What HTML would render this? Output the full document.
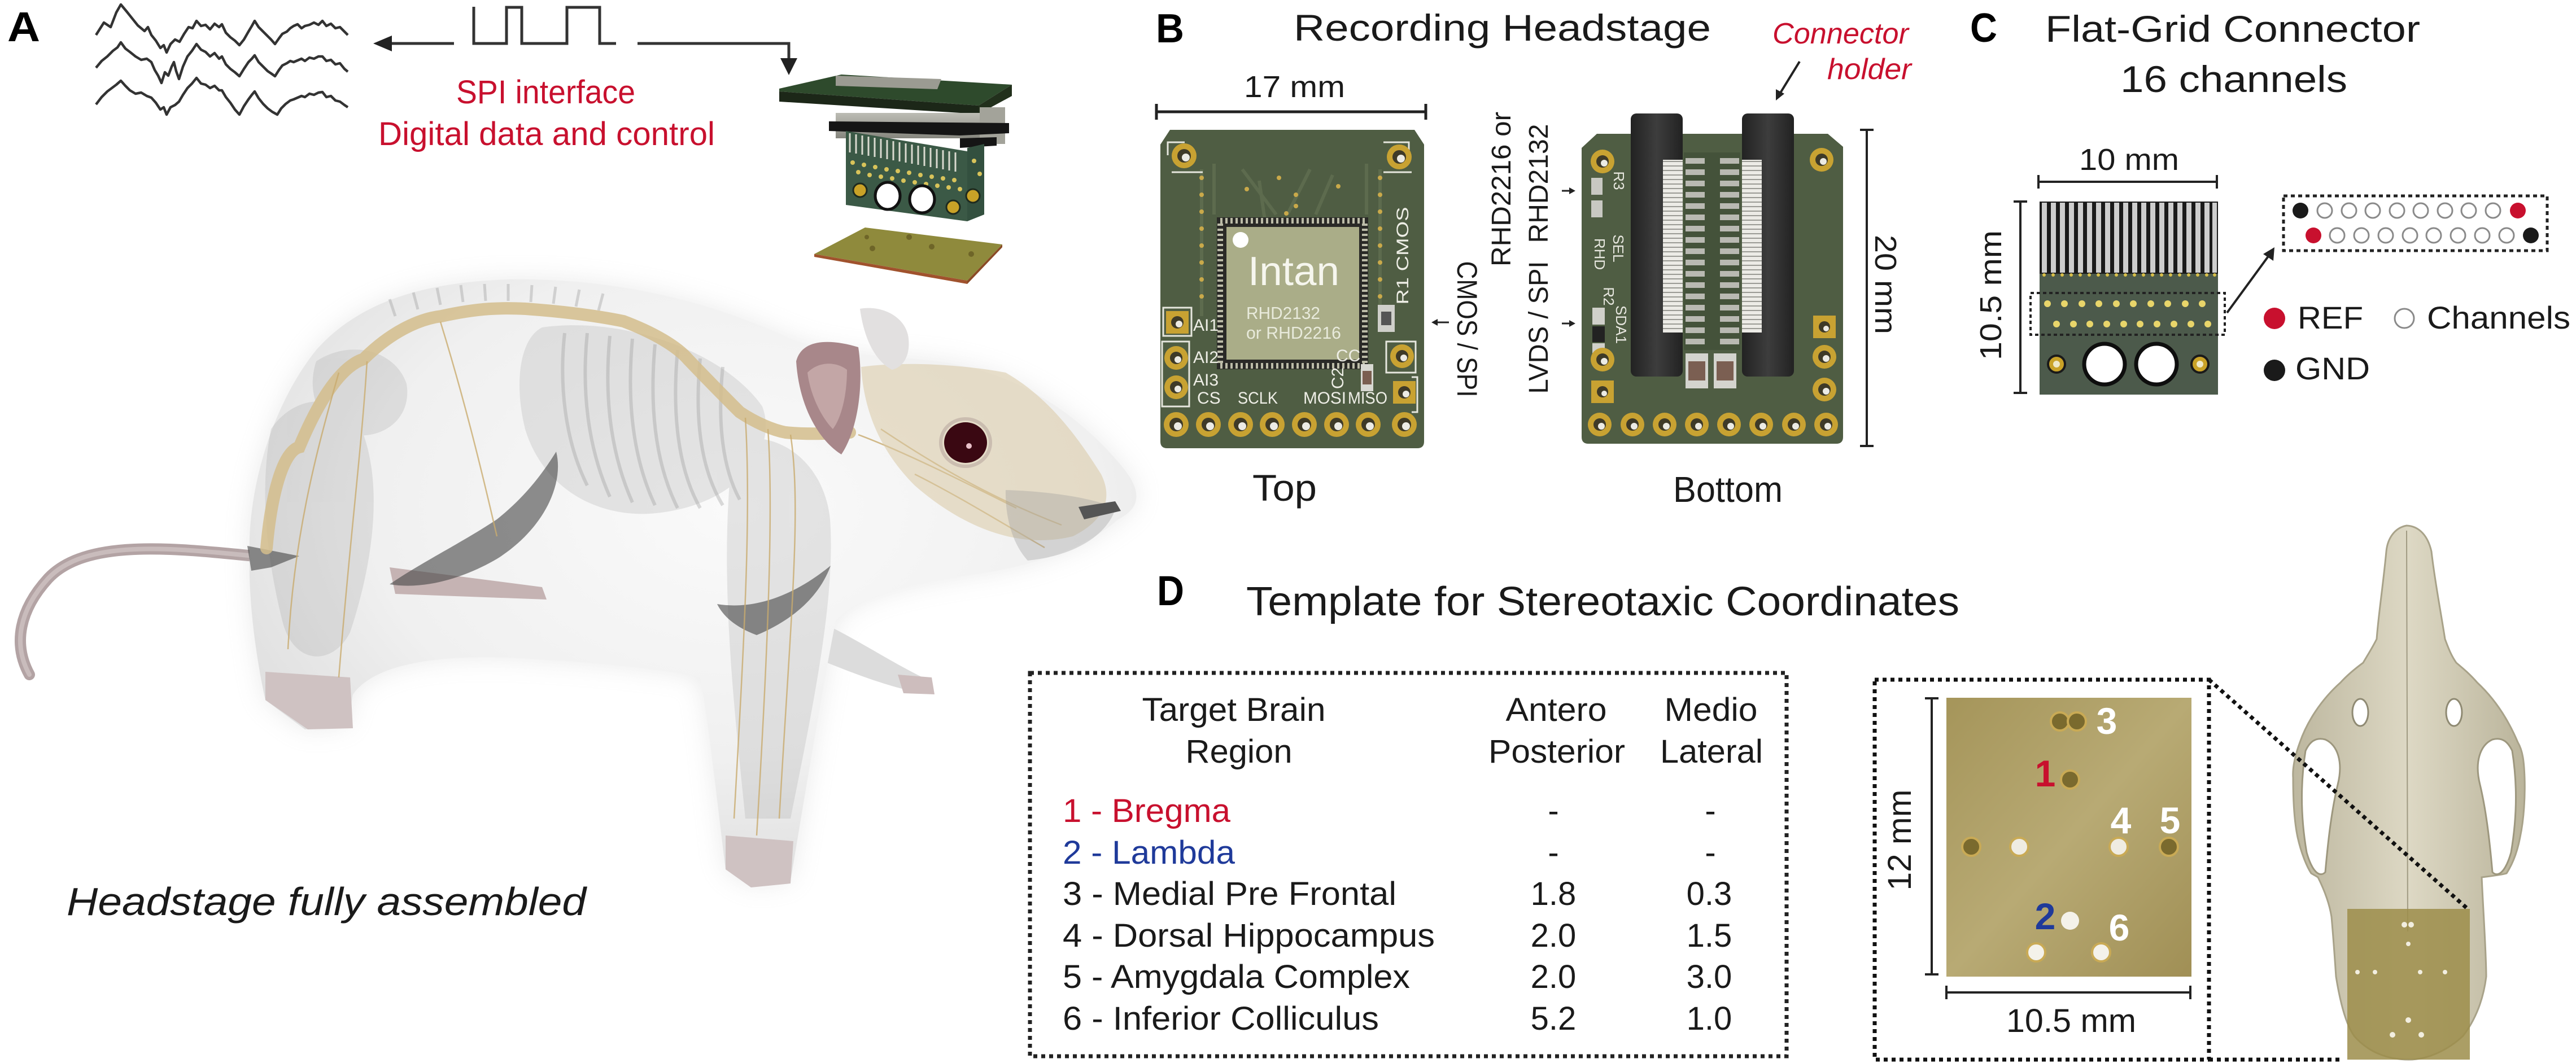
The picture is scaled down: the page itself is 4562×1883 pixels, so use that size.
<!DOCTYPE html>
<html><head><meta charset="utf-8"><style>
html,body{margin:0;padding:0;background:#fff;}
svg{display:block;}
text{font-family:"Liberation Sans",Arial,sans-serif;}
</style></head><body>
<svg width="4562" height="1883" viewBox="0 0 4562 1883" xmlns="http://www.w3.org/2000/svg">
<defs>
<radialGradient id="bodyG" cx="0.55" cy="0.38" r="0.75">
<stop offset="0" stop-color="#fafafa"/><stop offset="0.55" stop-color="#f0f0f0"/><stop offset="0.85" stop-color="#dedede"/><stop offset="1" stop-color="#c8c8c8"/>
</radialGradient>
<linearGradient id="tmplG" x1="0" y1="0" x2="1" y2="1">
<stop offset="0" stop-color="#a5955a"/><stop offset="0.5" stop-color="#b8aa74"/><stop offset="1" stop-color="#a08f55"/>
</linearGradient>
<linearGradient id="skullG" x1="0" y1="0" x2="1" y2="0">
<stop offset="0" stop-color="#bdb79f"/><stop offset="0.5" stop-color="#ddd8c4"/><stop offset="1" stop-color="#bab49b"/>
</linearGradient>
<linearGradient id="holderG" x1="0" y1="0" x2="1" y2="0">
<stop offset="0" stop-color="#222"/><stop offset="0.5" stop-color="#3d3d3d"/><stop offset="1" stop-color="#222"/>
</linearGradient>
<linearGradient id="greyBlk" x1="0" y1="0" x2="0" y2="1">
<stop offset="0" stop-color="#bdbdb5"/><stop offset="1" stop-color="#86867e"/>
</linearGradient>
<pattern id="stripH" width="10" height="8" patternUnits="userSpaceOnUse">
<rect width="10" height="8" fill="#ecebe6"/><rect y="5" width="10" height="2" fill="#9a9a94"/>
</pattern>
<filter id="blur20" x="-20%" y="-20%" width="140%" height="140%"><feGaussianBlur stdDeviation="22"/></filter>
<filter id="blur6"><feGaussianBlur stdDeviation="6"/></filter>
<filter id="blur3"><feGaussianBlur stdDeviation="3"/></filter>
</defs>

<!-- ===================== PANEL A ===================== -->
<text x="13" y="73" font-size="74" font-weight="bold" fill="#000" textLength="58" lengthAdjust="spacingAndGlyphs">A</text>

<g fill="none" stroke="#333" stroke-width="4.5" stroke-linejoin="round">
<polyline points="170,62 184,40 196,48 206,22 214,8 224,20 232,30 244,45 256,55 262,48 268,62 276,72 284,85 290,80 295,93 302,78 310,70 318,74 326,60 334,48 341,50 348,37 356,46 364,44 372,52 380,42 388,48 393,43 400,58 408,66 416,72 424,80 432,70 440,56 446,46 451,37 458,48 466,56 474,64 480,70 487,78 494,68 500,60 508,56 514,50 520,46 527,43 534,50 540,46 548,44 556,40 564,44 571,37 578,46 586,42 594,50 602,48 610,56 616,62"/>
<polyline points="170,120 180,108 190,100 200,90 208,84 214,75 222,86 230,92 240,100 250,106 260,104 268,110 274,124 280,134 286,147 292,128 298,134 304,118 308,110 312,126 317,140 324,118 332,100 340,90 348,78 356,88 364,92 372,100 380,94 388,104 393,100 400,114 408,122 416,128 424,135 432,122 440,110 446,104 451,98 458,110 466,118 474,126 480,130 487,135 494,124 500,116 508,112 514,108 520,110 527,107 534,104 540,108 548,102 556,104 564,100 571,100 578,108 586,106 594,114 602,112 610,122 616,127"/>
<polyline points="170,185 180,172 190,162 198,156 206,150 214,143 222,152 230,160 240,166 250,164 260,170 268,173 276,182 284,194 290,190 295,203 302,190 310,186 317,180 324,168 332,156 340,148 348,138 356,148 364,150 372,156 380,152 388,160 393,160 400,172 408,182 416,194 424,203 432,188 440,176 446,168 451,162 458,174 466,184 474,192 482,198 491,203 498,192 506,184 514,178 520,176 527,173 534,170 540,172 548,166 556,168 564,164 571,163 578,172 586,170 594,178 602,180 610,186 616,190"/>
</g>

<g stroke="#333" stroke-width="5" fill="none">
<line x1="688" y1="77" x2="804" y2="77"/>
<polyline points="839,12 839,77 897,77 897,13 924,13 924,77 1004,77 1004,13 1062,13 1062,77 1091,77"/>
<polyline points="1129,77 1397,77 1397,106"/>
</g>
<polygon points="661,77 694,63 694,91" fill="#222"/>
<polygon points="1382,103 1412,103 1397,133" fill="#222"/>

<text x="808" y="183" font-size="58" fill="#c8102e" textLength="317" lengthAdjust="spacingAndGlyphs">SPI interface</text>
<text x="670" y="257" font-size="58" fill="#c8102e" textLength="596" lengthAdjust="spacingAndGlyphs">Digital data and control</text>

<!-- exploded headstage -->
<g>
<polygon points="1380,157 1490,132 1792,150 1733,187 1380,162" fill="#2e4a2c"/>
<polygon points="1480,134 1667,140 1660,158 1480,152" fill="#9b9b92"/>
<polygon points="1380,162 1733,187 1733,202 1380,180" fill="#1c2718"/>
<polygon points="1733,187 1792,150 1792,170 1733,202" fill="#22301c"/>
<rect x="1480" y="200" width="255" height="45" fill="url(#greyBlk)"/>
<rect x="1735" y="190" width="45" height="65" fill="#a3a39a"/>
<polygon points="1468,215 1787,218 1787,236 1700,240 1468,232" fill="#151515"/>
<polygon points="1700,245 1765,243 1765,258 1700,262" fill="#151515"/>
<polygon points="1713,262 1743,255 1743,380 1713,392" fill="#33503f"/>
<polygon points="1498,232 1713,268 1713,392 1498,363" fill="#3b5946"/>
<g stroke="#d9d9cf" stroke-width="3">
<line x1="1505" y1="236" x2="1505" y2="270"/><line x1="1516" y1="238" x2="1516" y2="272"/><line x1="1527" y1="240" x2="1527" y2="274"/><line x1="1538" y1="242" x2="1538" y2="276"/><line x1="1549" y1="244" x2="1549" y2="278"/><line x1="1560" y1="246" x2="1560" y2="280"/><line x1="1571" y1="248" x2="1571" y2="282"/><line x1="1582" y1="250" x2="1582" y2="284"/><line x1="1593" y1="252" x2="1593" y2="286"/><line x1="1604" y1="254" x2="1604" y2="288"/><line x1="1615" y1="256" x2="1615" y2="290"/><line x1="1626" y1="258" x2="1626" y2="292"/><line x1="1637" y1="260" x2="1637" y2="294"/><line x1="1648" y1="262" x2="1648" y2="296"/><line x1="1659" y1="264" x2="1659" y2="298"/><line x1="1670" y1="266" x2="1670" y2="300"/><line x1="1681" y1="268" x2="1681" y2="302"/><line x1="1692" y1="270" x2="1692" y2="304"/>
</g>
<g fill="#d8c35a">
<circle cx="1510" cy="288" r="4"/><circle cx="1530" cy="292" r="4"/><circle cx="1550" cy="296" r="4"/><circle cx="1570" cy="300" r="4"/><circle cx="1590" cy="303" r="4"/><circle cx="1610" cy="306" r="4"/><circle cx="1630" cy="310" r="4"/><circle cx="1650" cy="313" r="4"/><circle cx="1670" cy="316" r="4"/><circle cx="1690" cy="319" r="4"/><circle cx="1725" cy="285" r="4"/>
<circle cx="1520" cy="305" r="4"/><circle cx="1540" cy="310" r="4"/><circle cx="1560" cy="313" r="4"/><circle cx="1580" cy="316" r="4"/><circle cx="1600" cy="320" r="4"/><circle cx="1620" cy="323" r="4"/><circle cx="1640" cy="326" r="4"/><circle cx="1660" cy="329" r="4"/><circle cx="1680" cy="332" r="4"/><circle cx="1700" cy="335" r="4"/><circle cx="1735" cy="308" r="4"/>
</g>
<ellipse cx="1572" cy="347" rx="22" ry="24" fill="#fff" stroke="#111" stroke-width="5"/>
<ellipse cx="1633" cy="353" rx="22" ry="24" fill="#fff" stroke="#111" stroke-width="5"/>
<circle cx="1523" cy="337" r="12" fill="#c9a227" stroke="#1e2a1e" stroke-width="3"/>
<circle cx="1688" cy="367" r="12" fill="#c9a227" stroke="#1e2a1e" stroke-width="3"/>
<circle cx="1723" cy="347" r="12" fill="#c9a227" stroke="#1e2a1e" stroke-width="3"/>
<polygon points="1442,450 1532,403 1775,433 1713,497" fill="#8f8a3c"/>
<polygon points="1442,450 1713,497 1713,503 1442,455" fill="#a0522d"/>
<polygon points="1713,497 1775,433 1775,438 1713,503" fill="#8a4a25"/>
<g fill="#6e6528"><circle cx="1545" cy="440" r="5"/><circle cx="1610" cy="420" r="5"/><circle cx="1650" cy="437" r="5"/><circle cx="1720" cy="450" r="5"/><circle cx="1535" cy="420" r="4"/></g>
</g>

<!-- Rat -->
<g>
<path d="M450,985 C300,970 150,955 85,1025 C35,1080 22,1140 52,1195" fill="none" stroke="#b3a3a4" stroke-width="20" stroke-linecap="round"/>
<path d="M450,985 C300,970 150,955 85,1025 C35,1080 22,1140 52,1195" fill="none" stroke="#c9bcbc" stroke-width="8" stroke-linecap="round"/>
<path d="M442,985 C438,870 480,720 560,620 C640,530 760,500 900,495 C1080,492 1250,530 1400,600 C1480,630 1560,630 1640,638 C1780,650 1900,720 1990,830 C2030,880 2010,905 1980,920 C1930,965 1850,995 1760,1012 C1640,1030 1520,1050 1480,1100 C1460,1200 1430,1380 1410,1500 L1400,1560 L1330,1568 L1285,1540 C1270,1420 1255,1280 1240,1200 C1150,1180 1000,1170 900,1165 C760,1160 660,1180 625,1230 L615,1285 L540,1292 L470,1240 C450,1150 440,1050 442,985 Z" fill="#bbb" opacity="0.3" filter="url(#blur20)"/>
<path d="M1470,1110 C1530,1140 1590,1180 1645,1205 L1635,1228 C1575,1218 1510,1192 1455,1170 Z" fill="#dcdcdc"/>
<path d="M1590,1195 L1650,1200 L1655,1230 L1600,1228 Z" fill="#cdbdbd"/>
<path d="M442,985 C438,870 480,720 560,620 C640,530 760,500 900,495 C1080,492 1250,530 1400,600 C1480,630 1560,630 1640,638 C1780,650 1900,720 1990,830 C2030,880 2010,905 1980,920 C1930,965 1850,995 1760,1012 C1640,1030 1520,1050 1480,1100 C1460,1200 1430,1380 1410,1500 L1400,1560 L1330,1568 L1285,1540 C1270,1420 1255,1280 1240,1200 C1150,1180 1000,1170 900,1165 C760,1160 660,1180 625,1230 L615,1285 L540,1292 L470,1240 C450,1150 440,1050 442,985 Z" fill="url(#bodyG)"/>
<path d="M690,1005 L960,1040 L968,1062 L700,1052 Z" fill="#c5b3b3"/>
<path d="M470,1190 L620,1200 L625,1290 L545,1292 L470,1240 Z" fill="#cfc2c2"/>
<path d="M1285,1480 L1405,1490 L1400,1565 L1330,1572 L1285,1540 Z" fill="#cfc2c2"/>
<!-- bones -->
<g fill="#9a9a9a" opacity="0.22">
<path d="M480,760 C520,700 600,690 640,760 C680,860 660,1000 620,1120 C590,1180 520,1180 500,1100 C470,980 460,860 480,760 Z"/>
<path d="M1300,780 C1380,760 1460,820 1470,920 C1480,1060 1440,1250 1400,1450 L1320,1450 C1300,1250 1270,1000 1300,780 Z"/>
<path d="M960,580 C1100,560 1280,620 1350,720 C1380,800 1300,900 1150,910 C1050,915 960,860 930,760 C910,680 920,600 960,580 Z"/>
<path d="M560,640 C620,600 700,620 720,680 C730,740 680,780 620,770 C570,760 540,700 560,640 Z"/>
</g>
<g fill="none" stroke="#9a9a9a" stroke-width="6" opacity="0.35">
<path d="M1000,590 C990,680 1000,780 1040,860"/><path d="M1040,590 C1030,690 1040,790 1080,880"/><path d="M1080,595 C1070,700 1080,800 1120,890"/><path d="M1120,600 C1110,710 1120,810 1160,895"/><path d="M1160,610 C1150,720 1160,820 1200,900"/><path d="M1200,620 C1190,730 1200,830 1240,900"/><path d="M1240,635 C1230,740 1240,830 1280,895"/><path d="M1280,650 C1270,750 1280,830 1310,885"/>
</g>
<g fill="none" stroke="#a0a0a0" stroke-width="5" opacity="0.4">
<path d="M700,560 L690,530 M740,548 L732,518 M780,540 L774,510 M820,535 L816,505 M860,533 L858,503 M900,533 L900,503 M940,535 L942,505 M980,538 L984,508 M1020,543 L1026,513 M1060,550 L1068,520"/>
</g>
<g fill="#444" opacity="0.6">
<path d="M985,800 C1000,860 960,940 880,990 C820,1025 750,1045 690,1035 C740,1000 820,960 880,920 C930,880 960,840 985,800 Z"/>
<path d="M1471,1002 C1450,1060 1400,1100 1340,1125 C1300,1110 1280,1090 1270,1070 C1330,1080 1400,1060 1471,1002 Z"/>
<path d="M438,967 L530,985 L480,1005 L445,1011 Z"/>
</g>
<!-- spine -->
<path d="M472,971 C480,880 500,800 530,792 C560,720 600,650 644,636 C690,590 740,565 782,560 C850,545 890,545 931,547 C1000,552 1060,560 1104,569 C1160,590 1200,615 1218,636 C1260,680 1290,710 1310,730 C1340,750 1370,762 1391,766 C1430,770 1470,768 1505,766" fill="none" stroke="#d4bd8c" stroke-width="22" stroke-linecap="round" opacity="0.85"/>
<g fill="none" stroke="#c9ab6e" stroke-width="2.5" opacity="0.8">
<path d="M600,660 C560,800 520,950 510,1150"/><path d="M650,640 C640,800 620,950 600,1200"/><path d="M1320,740 C1330,900 1320,1100 1300,1450"/><path d="M1360,760 C1370,900 1360,1150 1340,1480"/><path d="M1400,770 C1420,900 1400,1100 1380,1450"/><path d="M1520,770 C1600,800 1700,850 1800,900"/><path d="M1560,760 C1650,820 1750,880 1880,930"/><path d="M780,570 C820,700 850,820 880,950"/><path d="M1620,840 C1700,880 1780,930 1850,970"/>
</g>
<!-- head -->
<path d="M1525,650 C1600,640 1700,645 1781,660 C1850,700 1900,760 1950,840 C1970,880 1960,920 1900,950 C1800,975 1700,930 1620,860 C1560,800 1530,730 1525,650 Z" fill="#d8c8a4" opacity="0.55"/>
<path d="M1781,868 C1850,870 1930,880 1976,900 C1960,950 1900,985 1820,993 C1790,960 1780,910 1781,868 Z" fill="#9a9a9a" opacity="0.35"/>
<path d="M1523,547 C1560,540 1605,560 1609,600 C1612,630 1600,650 1580,655 C1550,640 1530,600 1523,547 Z" fill="#e2e0e0"/>
<path d="M1410,640 C1420,600 1470,600 1520,615 C1530,680 1520,760 1490,805 C1450,780 1415,720 1410,640 Z" fill="#a8878a"/>
<path d="M1430,660 C1450,640 1480,640 1500,655 C1500,700 1490,740 1475,760 C1455,740 1435,700 1430,660 Z" fill="#c3a6a6"/>
<ellipse cx="1710" cy="784" rx="38" ry="36" fill="#3a0812"/>
<ellipse cx="1710" cy="784" rx="44" ry="42" fill="none" stroke="#b9a9a0" stroke-width="6" opacity="0.6"/>
<circle cx="1716" cy="790" r="5" fill="#e8c0c8"/>
<path d="M1910,898 L1975,888 L1985,905 L1920,920 Z" fill="#555"/>
</g>

<text x="118" y="1621" font-size="70" font-style="italic" fill="#1a1a1a" textLength="920" lengthAdjust="spacingAndGlyphs">Headstage fully assembled</text>

<!-- ===================== PANEL B ===================== -->
<text x="2047" y="75" font-size="72" font-weight="bold" fill="#000" textLength="50" lengthAdjust="spacingAndGlyphs">B</text>
<text x="2291" y="72" font-size="66" fill="#1a1a1a" textLength="739" lengthAdjust="spacingAndGlyphs">Recording Headstage</text>
<text x="2203" y="172" font-size="54" fill="#1a1a1a" textLength="179" lengthAdjust="spacingAndGlyphs">17 mm</text>
<g stroke="#222" stroke-width="5"><line x1="2048" y1="198" x2="2525" y2="198"/><line x1="2048" y1="184" x2="2048" y2="212"/><line x1="2525" y1="184" x2="2525" y2="212"/></g>

<!-- top board -->
<path d="M2072,230 L2505,230 L2522,256 L2522,782 Q2522,794 2510,794 L2067,794 Q2055,794 2055,782 L2055,256 Z" fill="#4f5d43"/>
<g fill="none" stroke="#5d6b4e" stroke-width="6">
<path d="M2128,300 L2128,560 M2150,290 L2150,380 M2444,300 L2444,560 M2420,290 L2420,380 M2200,300 L2260,380 M2320,300 L2280,380 M2360,310 L2330,380 M2230,320 L2240,390"/>
</g>
<g fill="#c9a94a">
<circle cx="2128" cy="315" r="4"/><circle cx="2128" cy="345" r="4"/><circle cx="2128" cy="375" r="4"/><circle cx="2128" cy="405" r="4"/><circle cx="2128" cy="435" r="4"/><circle cx="2128" cy="465" r="4"/><circle cx="2128" cy="495" r="4"/><circle cx="2128" cy="525" r="4"/>
<circle cx="2444" cy="315" r="4"/><circle cx="2444" cy="345" r="4"/><circle cx="2444" cy="375" r="4"/><circle cx="2444" cy="405" r="4"/><circle cx="2444" cy="435" r="4"/><circle cx="2444" cy="465" r="4"/><circle cx="2444" cy="495" r="4"/><circle cx="2444" cy="525" r="4"/>
<circle cx="2208" cy="335" r="4"/><circle cx="2265" cy="315" r="4"/><circle cx="2295" cy="345" r="4"/><circle cx="2295" cy="365" r="4"/><circle cx="2278" cy="378" r="4"/><circle cx="2370" cy="330" r="4"/>
</g>
<g fill="none" stroke="#e6e6de" stroke-width="3">
<path d="M2068,275 L2068,252 L2098,252"/><path d="M2075,305 L2130,305"/><path d="M2450,252 L2495,252 L2495,270"/><path d="M2450,305 L2500,305"/>
<rect x="2060" y="545" width="50" height="50"/><rect x="2058" y="605" width="48" height="115"/>
<rect x="2455" y="605" width="52" height="55"/><path d="M2500,668 L2510,668 L2510,730 L2500,730"/>
</g>
<rect x="2155" y="385" width="268" height="269" fill="#2a2a27"/>
<rect x="2161" y="391" width="256" height="257" fill="none" stroke="#bcbca8" stroke-width="10" stroke-dasharray="4 5"/>
<rect x="2172" y="402" width="235" height="235" fill="#aaad88"/>
<circle cx="2197" cy="425" r="14" fill="#fff"/>
<text x="2210" y="505" font-size="72" fill="#f6f6ee" textLength="162" lengthAdjust="spacingAndGlyphs">Intan</text>
<text x="2207" y="565" font-size="31" fill="#e8eadb" textLength="131" lengthAdjust="spacingAndGlyphs">RHD2132</text>
<text x="2207" y="600" font-size="31" fill="#e8eadb" textLength="168" lengthAdjust="spacingAndGlyphs">or RHD2216</text>
<rect x="2440" y="540" width="30" height="48" fill="#cfcfca"/><rect x="2446" y="552" width="18" height="24" fill="#555"/>
<rect x="2410" y="645" width="22" height="48" fill="#d8d8d2"/><rect x="2413" y="657" width="16" height="24" fill="#7a5e50"/>
<g font-family="'Liberation Mono',monospace" fill="#eeeee6" font-size="30">
<text x="2113" y="586">AI1</text><text x="2113" y="643">AI2</text><text x="2113" y="683">AI3</text>
<text x="2120" y="715">CS</text><text x="2192" y="715" textLength="71" lengthAdjust="spacingAndGlyphs">SCLK</text>
<text x="2308" y="715" textLength="76" lengthAdjust="spacingAndGlyphs">MOSI</text><text x="2387" y="715" textLength="70" lengthAdjust="spacingAndGlyphs">MISO</text>
<text x="2366" y="640">CC</text>
<text transform="translate(2483,453) rotate(-90)" text-anchor="middle" y="11" textLength="173" lengthAdjust="spacingAndGlyphs">R1 CMOS</text>
<text transform="translate(2368,670) rotate(-90)" text-anchor="middle" y="11">C2</text>
</g>
<g>
<g fill="#c8a232"><circle cx="2097" cy="276" r="22"/><circle cx="2478" cy="278" r="22"/>
<rect x="2065" y="551" width="40" height="40"/><circle cx="2083" cy="634" r="21"/><circle cx="2083" cy="686" r="21"/>
<circle cx="2483" cy="631" r="21"/><rect x="2467" y="675" width="40" height="40"/>
<circle cx="2083" cy="752" r="22"/><circle cx="2140" cy="752" r="22"/><circle cx="2197" cy="752" r="22"/><circle cx="2253" cy="752" r="22"/><circle cx="2310" cy="752" r="22"/><circle cx="2367" cy="752" r="22"/><circle cx="2423" cy="752" r="22"/><circle cx="2487" cy="752" r="22"/></g>
<g fill="#3e3a28"><circle cx="2097" cy="276" r="12"/><circle cx="2478" cy="278" r="12"/><circle cx="2085" cy="571" r="11"/><circle cx="2083" cy="634" r="11"/><circle cx="2083" cy="686" r="11"/><circle cx="2483" cy="631" r="11"/><circle cx="2487" cy="695" r="11"/>
<circle cx="2083" cy="752" r="12"/><circle cx="2140" cy="752" r="12"/><circle cx="2197" cy="752" r="12"/><circle cx="2253" cy="752" r="12"/><circle cx="2310" cy="752" r="12"/><circle cx="2367" cy="752" r="12"/><circle cx="2423" cy="752" r="12"/><circle cx="2487" cy="752" r="12"/></g>
<g fill="#ecebe4"><circle cx="2100" cy="279" r="7"/><circle cx="2481" cy="281" r="7"/><circle cx="2088" cy="574" r="6"/><circle cx="2086" cy="637" r="6"/><circle cx="2086" cy="689" r="6"/><circle cx="2486" cy="634" r="6"/><circle cx="2490" cy="698" r="6"/>
<circle cx="2086" cy="755" r="7"/><circle cx="2143" cy="755" r="7"/><circle cx="2200" cy="755" r="7"/><circle cx="2256" cy="755" r="7"/><circle cx="2313" cy="755" r="7"/><circle cx="2370" cy="755" r="7"/><circle cx="2426" cy="755" r="7"/><circle cx="2490" cy="755" r="7"/></g>
</g>
<text x="2218" y="887" font-size="66" fill="#1a1a1a" textLength="114" lengthAdjust="spacingAndGlyphs">Top</text>

<!-- side labels -->
<g stroke="#222" stroke-width="3"><line x1="2540" y1="571" x2="2566" y2="571"/><line x1="2766" y1="338" x2="2780" y2="338"/><line x1="2766" y1="573" x2="2780" y2="573"/></g>
<polygon points="2535,571 2546,565 2546,577" fill="#222"/>
<polygon points="2790,338 2779,332 2779,344" fill="#222"/>
<polygon points="2790,573 2779,567 2779,579" fill="#222"/>
<text transform="translate(2598,583) rotate(90)" text-anchor="middle" y="17" font-size="50" fill="#1a1a1a" textLength="241" lengthAdjust="spacingAndGlyphs">CMOS / SPI</text>
<text transform="translate(2658,335) rotate(-90)" text-anchor="middle" y="17" font-size="48" fill="#1a1a1a" textLength="274" lengthAdjust="spacingAndGlyphs">RHD2216 or</text>
<text transform="translate(2724,325) rotate(-90)" text-anchor="middle" y="17" font-size="48" fill="#1a1a1a" textLength="211" lengthAdjust="spacingAndGlyphs">RHD2132</text>
<text transform="translate(2724,580) rotate(-90)" text-anchor="middle" y="17" font-size="48" fill="#1a1a1a" textLength="235" lengthAdjust="spacingAndGlyphs">LVDS / SPI</text>

<!-- bottom board -->
<path d="M2828,237 L3237,237 L3264,260 L3264,774 Q3264,786 3252,786 L2813,786 Q2801,786 2801,774 L2801,262 Z" fill="#4f5d43"/>
<rect x="2982" y="270" width="100" height="350" fill="#44523a"/>
<g fill="#b9b9b2">
<rect x="2985" y="280" width="34" height="10"/><rect x="2985" y="300" width="34" height="10"/><rect x="2985" y="320" width="34" height="10"/><rect x="2985" y="340" width="34" height="10"/><rect x="2985" y="360" width="34" height="10"/><rect x="2985" y="380" width="34" height="10"/><rect x="2985" y="400" width="34" height="10"/><rect x="2985" y="420" width="34" height="10"/><rect x="2985" y="440" width="34" height="10"/><rect x="2985" y="460" width="34" height="10"/><rect x="2985" y="480" width="34" height="10"/><rect x="2985" y="500" width="34" height="10"/><rect x="2985" y="520" width="34" height="10"/><rect x="2985" y="540" width="34" height="10"/><rect x="2985" y="560" width="34" height="10"/><rect x="2985" y="580" width="34" height="10"/><rect x="2985" y="600" width="34" height="10"/>
<rect x="3046" y="280" width="34" height="10"/><rect x="3046" y="300" width="34" height="10"/><rect x="3046" y="320" width="34" height="10"/><rect x="3046" y="340" width="34" height="10"/><rect x="3046" y="360" width="34" height="10"/><rect x="3046" y="380" width="34" height="10"/><rect x="3046" y="400" width="34" height="10"/><rect x="3046" y="420" width="34" height="10"/><rect x="3046" y="440" width="34" height="10"/><rect x="3046" y="460" width="34" height="10"/><rect x="3046" y="480" width="34" height="10"/><rect x="3046" y="500" width="34" height="10"/><rect x="3046" y="520" width="34" height="10"/><rect x="3046" y="540" width="34" height="10"/><rect x="3046" y="560" width="34" height="10"/><rect x="3046" y="580" width="34" height="10"/><rect x="3046" y="600" width="34" height="10"/>
</g>
<rect x="2888" y="201" width="92" height="466" rx="10" fill="url(#holderG)"/>
<rect x="3085" y="201" width="92" height="466" rx="10" fill="url(#holderG)"/>
<rect x="2945" y="283" width="35" height="306" fill="url(#stripH)"/>
<rect x="3085" y="283" width="35" height="306" fill="url(#stripH)"/>
<g><rect x="2985" y="626" width="40" height="62" fill="#d4d4ce"/><rect x="2990" y="640" width="30" height="34" fill="#7b5f52"/>
<rect x="3035" y="626" width="40" height="62" fill="#d4d4ce"/><rect x="3040" y="640" width="30" height="34" fill="#7b5f52"/></g>
<g><rect x="2818" y="315" width="20" height="30" fill="#c8c8c2"/><rect x="2818" y="355" width="20" height="30" fill="#c8c8c2"/>
<rect x="2820" y="545" width="22" height="30" fill="#d0d0ca"/><rect x="2820" y="578" width="22" height="28" fill="#222"/><rect x="2820" y="608" width="22" height="24" fill="#d0d0ca"/></g>
<g font-family="'Liberation Mono',monospace" fill="#e6e6de" font-size="26">
<text transform="translate(2856,320) rotate(90)" text-anchor="middle" y="-2">R3</text>
<text transform="translate(2822,450) rotate(90)" text-anchor="middle" y="-2">RHD</text>
<text transform="translate(2855,440) rotate(90)" text-anchor="middle" y="-2">SEL</text>
<text transform="translate(2838,525) rotate(90)" text-anchor="middle" y="-2">R2</text>
<text transform="translate(2860,575) rotate(90)" text-anchor="middle" y="-2">SDA1</text>
</g>
<g>
<g fill="#c8a232"><circle cx="2838" cy="286" r="21"/><circle cx="3226" cy="283" r="21"/>
<rect x="3211" y="559" width="40" height="40"/><circle cx="3231" cy="632" r="21"/><circle cx="3231" cy="690" r="21"/>
<circle cx="2838" cy="637" r="21"/><rect x="2818" y="674" width="40" height="40"/>
<circle cx="2833" cy="752" r="21"/><circle cx="2891" cy="752" r="21"/><circle cx="2948" cy="752" r="21"/><circle cx="3005" cy="752" r="21"/><circle cx="3062" cy="752" r="21"/><circle cx="3119" cy="752" r="21"/><circle cx="3177" cy="752" r="21"/><circle cx="3234" cy="752" r="21"/></g>
<g fill="#3e3a28"><circle cx="2838" cy="286" r="11"/><circle cx="3226" cy="283" r="11"/><circle cx="3231" cy="579" r="10"/><circle cx="3231" cy="632" r="11"/><circle cx="3231" cy="690" r="11"/><circle cx="2838" cy="637" r="11"/><circle cx="2838" cy="694" r="10"/>
<circle cx="2833" cy="752" r="11"/><circle cx="2891" cy="752" r="11"/><circle cx="2948" cy="752" r="11"/><circle cx="3005" cy="752" r="11"/><circle cx="3062" cy="752" r="11"/><circle cx="3119" cy="752" r="11"/><circle cx="3177" cy="752" r="11"/><circle cx="3234" cy="752" r="11"/></g>
<g fill="#ecebe4"><circle cx="2841" cy="289" r="6"/><circle cx="3229" cy="286" r="6"/><circle cx="3234" cy="582" r="5"/><circle cx="3234" cy="635" r="6"/><circle cx="3234" cy="693" r="6"/><circle cx="2841" cy="640" r="6"/><circle cx="2841" cy="697" r="5"/>
<circle cx="2836" cy="755" r="6"/><circle cx="2894" cy="755" r="6"/><circle cx="2951" cy="755" r="6"/><circle cx="3008" cy="755" r="6"/><circle cx="3065" cy="755" r="6"/><circle cx="3122" cy="755" r="6"/><circle cx="3180" cy="755" r="6"/><circle cx="3237" cy="755" r="6"/></g>
</g>
<text x="2963" y="889" font-size="64" fill="#1a1a1a" textLength="194" lengthAdjust="spacingAndGlyphs">Bottom</text>

<g stroke="#222" stroke-width="4"><line x1="3306" y1="230" x2="3306" y2="790"/><line x1="3294" y1="230" x2="3318" y2="230"/><line x1="3294" y1="790" x2="3318" y2="790"/></g>
<text transform="translate(3340,504) rotate(90)" text-anchor="middle" y="19" font-size="54" fill="#1a1a1a" textLength="176" lengthAdjust="spacingAndGlyphs">20 mm</text>

<text x="3139" y="77" font-size="52" font-style="italic" fill="#c8102e" textLength="241" lengthAdjust="spacingAndGlyphs">Connector</text>
<text x="3236" y="140" font-size="52" font-style="italic" fill="#c8102e" textLength="149" lengthAdjust="spacingAndGlyphs">holder</text>
<line x1="3187" y1="109" x2="3152" y2="166" stroke="#222" stroke-width="4"/>
<polygon points="3145,178 3145,158 3160,166" fill="#222"/>

<!-- ===================== PANEL C ===================== -->
<text x="3489" y="74" font-size="72" font-weight="bold" fill="#000" textLength="48" lengthAdjust="spacingAndGlyphs">C</text>
<text x="3622" y="74" font-size="66" fill="#1a1a1a" textLength="664" lengthAdjust="spacingAndGlyphs">Flat-Grid Connector</text>
<text x="3755" y="163" font-size="66" fill="#1a1a1a" textLength="402" lengthAdjust="spacingAndGlyphs">16 channels</text>
<text x="3682" y="301" font-size="54" fill="#1a1a1a" textLength="177" lengthAdjust="spacingAndGlyphs">10 mm</text>
<g stroke="#222" stroke-width="4"><line x1="3610" y1="322" x2="3926" y2="322"/><line x1="3610" y1="310" x2="3610" y2="334"/><line x1="3926" y1="310" x2="3926" y2="334"/>
<line x1="3578" y1="357" x2="3578" y2="696"/><line x1="3566" y1="357" x2="3590" y2="357"/><line x1="3566" y1="696" x2="3590" y2="696"/></g>
<text transform="translate(3525,523) rotate(-90)" text-anchor="middle" y="19" font-size="54" fill="#1a1a1a" textLength="230" lengthAdjust="spacingAndGlyphs">10.5 mm</text>
<rect x="3612" y="357" width="316" height="130" fill="#1a1a1a"/>
<g fill="#cdcdcd">
<rect x="3616" y="359" width="9" height="124"/><rect x="3632" y="359" width="9" height="124"/><rect x="3648" y="359" width="9" height="124"/><rect x="3664" y="359" width="9" height="124"/><rect x="3680" y="359" width="9" height="124"/><rect x="3696" y="359" width="9" height="124"/><rect x="3712" y="359" width="9" height="124"/><rect x="3728" y="359" width="9" height="124"/><rect x="3744" y="359" width="9" height="124"/><rect x="3760" y="359" width="9" height="124"/><rect x="3776" y="359" width="9" height="124"/><rect x="3792" y="359" width="9" height="124"/><rect x="3808" y="359" width="9" height="124"/><rect x="3824" y="359" width="9" height="124"/><rect x="3840" y="359" width="9" height="124"/><rect x="3856" y="359" width="9" height="124"/><rect x="3872" y="359" width="9" height="124"/><rect x="3888" y="359" width="9" height="124"/><rect x="3904" y="359" width="9" height="124"/><rect x="3918" y="359" width="8" height="124"/>
</g>
<rect x="3612" y="485" width="316" height="214" fill="#4c5a4b"/>
<g fill="#d8bf4a">
<circle cx="3620" cy="487" r="3"/><circle cx="3636" cy="487" r="3"/><circle cx="3652" cy="487" r="3"/><circle cx="3668" cy="487" r="3"/><circle cx="3684" cy="487" r="3"/><circle cx="3700" cy="487" r="3"/><circle cx="3716" cy="487" r="3"/><circle cx="3732" cy="487" r="3"/><circle cx="3748" cy="487" r="3"/><circle cx="3764" cy="487" r="3"/><circle cx="3780" cy="487" r="3"/><circle cx="3796" cy="487" r="3"/><circle cx="3812" cy="487" r="3"/><circle cx="3828" cy="487" r="3"/><circle cx="3844" cy="487" r="3"/><circle cx="3860" cy="487" r="3"/><circle cx="3876" cy="487" r="3"/><circle cx="3892" cy="487" r="3"/><circle cx="3908" cy="487" r="3"/><circle cx="3922" cy="487" r="3"/>
</g>
<g fill="#e8d56a">
<circle cx="3626" cy="538" r="6"/><circle cx="3656" cy="538" r="6"/><circle cx="3687" cy="538" r="6"/><circle cx="3717" cy="538" r="6"/><circle cx="3748" cy="538" r="6"/><circle cx="3778" cy="538" r="6"/><circle cx="3809" cy="538" r="6"/><circle cx="3839" cy="538" r="6"/><circle cx="3870" cy="538" r="6"/><circle cx="3900" cy="538" r="6"/>
<circle cx="3642" cy="574" r="6"/><circle cx="3672" cy="574" r="6"/><circle cx="3701" cy="574" r="6"/><circle cx="3731" cy="574" r="6"/><circle cx="3761" cy="574" r="6"/><circle cx="3790" cy="574" r="6"/><circle cx="3820" cy="574" r="6"/><circle cx="3850" cy="574" r="6"/><circle cx="3880" cy="574" r="6"/><circle cx="3910" cy="574" r="6"/>
</g>
<circle cx="3727" cy="645" r="36" fill="#fff" stroke="#0e0e0e" stroke-width="7"/>
<circle cx="3819" cy="645" r="36" fill="#fff" stroke="#0e0e0e" stroke-width="7"/>
<circle cx="3642" cy="645" r="15" fill="#c9a227" stroke="#1a1a1a" stroke-width="4"/><circle cx="3642" cy="645" r="6" fill="#efe9c8"/>
<circle cx="3896" cy="645" r="15" fill="#c9a227" stroke="#1a1a1a" stroke-width="4"/><circle cx="3896" cy="645" r="6" fill="#efe9c8"/>
<rect x="3596" y="519" width="344" height="74" fill="none" stroke="#222" stroke-width="4" stroke-dasharray="6 5"/>
<line x1="3944" y1="554" x2="4020" y2="450" stroke="#222" stroke-width="4"/>
<polygon points="4028,438 4026,462 4008,450" fill="#222"/>
<rect x="4044" y="347" width="467" height="97" fill="none" stroke="#222" stroke-width="5" stroke-dasharray="7 6"/>
<circle cx="4074" cy="373" r="14" fill="#1a1a1a"/>
<circle cx="4459" cy="373" r="14" fill="#c8102e"/>
<circle cx="4097" cy="417" r="14" fill="#c8102e"/>
<circle cx="4482" cy="417" r="14" fill="#1a1a1a"/>
<g fill="none" stroke="#8a8a8a" stroke-width="3">
<circle cx="4117" cy="373" r="13"/><circle cx="4160" cy="373" r="13"/><circle cx="4202" cy="373" r="13"/><circle cx="4245" cy="373" r="13"/><circle cx="4287" cy="373" r="13"/><circle cx="4330" cy="373" r="13"/><circle cx="4372" cy="373" r="13"/><circle cx="4415" cy="373" r="13"/>
<circle cx="4139" cy="417" r="13"/><circle cx="4182" cy="417" r="13"/><circle cx="4225" cy="417" r="13"/><circle cx="4268" cy="417" r="13"/><circle cx="4310" cy="417" r="13"/><circle cx="4353" cy="417" r="13"/><circle cx="4396" cy="417" r="13"/><circle cx="4439" cy="417" r="13"/>
</g>
<circle cx="4028" cy="564" r="19" fill="#c8102e"/>
<text x="4069" y="582" font-size="56" fill="#1a1a1a" textLength="116" lengthAdjust="spacingAndGlyphs">REF</text>
<circle cx="4258" cy="564" r="17" fill="none" stroke="#8a8a8a" stroke-width="3"/>
<text x="4298" y="582" font-size="56" fill="#1a1a1a" textLength="254" lengthAdjust="spacingAndGlyphs">Channels</text>
<circle cx="4028" cy="656" r="19" fill="#1a1a1a"/>
<text x="4065" y="672" font-size="56" fill="#1a1a1a" textLength="132" lengthAdjust="spacingAndGlyphs">GND</text>

<!-- ===================== PANEL D ===================== -->
<text x="2049" y="1072" font-size="74" font-weight="bold" fill="#000" textLength="48" lengthAdjust="spacingAndGlyphs">D</text>
<text x="2207" y="1090" font-size="72" fill="#1a1a1a" textLength="1263" lengthAdjust="spacingAndGlyphs">Template for Stereotaxic Coordinates</text>

<rect x="1824" y="1192" width="1340" height="679" fill="none" stroke="#222" stroke-width="7" stroke-dasharray="7 7"/>
<g font-size="58" fill="#1a1a1a">
<text x="2185" y="1277" text-anchor="middle" textLength="325" lengthAdjust="spacingAndGlyphs">Target Brain</text>
<text x="2194" y="1351" text-anchor="middle" textLength="189" lengthAdjust="spacingAndGlyphs">Region</text>
<text x="2756" y="1277" text-anchor="middle" textLength="179" lengthAdjust="spacingAndGlyphs">Antero</text>
<text x="2757" y="1351" text-anchor="middle" textLength="242" lengthAdjust="spacingAndGlyphs">Posterior</text>
<text x="3030" y="1277" text-anchor="middle" textLength="165" lengthAdjust="spacingAndGlyphs">Medio</text>
<text x="3031" y="1351" text-anchor="middle" textLength="182" lengthAdjust="spacingAndGlyphs">Lateral</text>
<text x="1882" y="1456" fill="#c8102e" textLength="297" lengthAdjust="spacingAndGlyphs">1 - Bregma</text>
<text x="1882" y="1530" fill="#1f3a9a" textLength="305" lengthAdjust="spacingAndGlyphs">2 - Lambda</text>
<text x="1882" y="1603" textLength="591" lengthAdjust="spacingAndGlyphs">3 - Medial Pre Frontal</text>
<text x="1882" y="1677" textLength="659" lengthAdjust="spacingAndGlyphs">4 - Dorsal Hippocampus</text>
<text x="1882" y="1750" textLength="615" lengthAdjust="spacingAndGlyphs">5 - Amygdala Complex</text>
<text x="1882" y="1824" textLength="560" lengthAdjust="spacingAndGlyphs">6 - Inferior Colliculus</text>
<text x="2751" y="1456" text-anchor="middle">-</text><text x="3029" y="1456" text-anchor="middle">-</text>
<text x="2751" y="1530" text-anchor="middle">-</text><text x="3029" y="1530" text-anchor="middle">-</text>
<text x="2751" y="1603" text-anchor="middle">1.8</text><text x="3027" y="1603" text-anchor="middle">0.3</text>
<text x="2751" y="1677" text-anchor="middle">2.0</text><text x="3027" y="1677" text-anchor="middle">1.5</text>
<text x="2751" y="1750" text-anchor="middle">2.0</text><text x="3027" y="1750" text-anchor="middle">3.0</text>
<text x="2751" y="1824" text-anchor="middle">5.2</text><text x="3027" y="1824" text-anchor="middle">1.0</text>
</g>

<!-- skull -->
<path d="M4262,931 C4240,935 4228,955 4226,977 C4220,1040 4212,1090 4209,1132 C4200,1150 4190,1165 4185,1174 C4170,1185 4155,1198 4145,1209 C4110,1240 4085,1280 4073,1315 C4062,1345 4060,1365 4061,1378 C4061,1420 4063,1455 4069,1483 C4075,1510 4085,1535 4093,1547 C4098,1550 4102,1552 4105,1554 C4118,1580 4126,1605 4129,1624 C4133,1670 4135,1700 4137,1730 C4145,1780 4155,1815 4169,1835 C4195,1865 4230,1877 4266,1877 C4300,1877 4335,1860 4362,1835 C4385,1805 4398,1770 4403,1730 C4403,1690 4398,1620 4395,1554 C4410,1552 4430,1550 4439,1547 C4450,1530 4458,1510 4463,1483 C4470,1450 4472,1410 4471,1378 C4470,1350 4468,1330 4459,1315 C4440,1270 4415,1235 4387,1209 C4375,1195 4362,1184 4350,1174 C4340,1160 4335,1145 4330,1132 C4322,1080 4312,1030 4306,977 C4300,950 4285,932 4262,931 Z" fill="url(#skullG)" stroke="#a8a289" stroke-width="3"/>
<path d="M4083,1330 C4075,1380 4073,1440 4085,1510 C4095,1545 4108,1555 4118,1545 C4122,1500 4128,1440 4140,1390 C4150,1350 4140,1320 4118,1310 C4100,1305 4090,1315 4083,1330 Z" fill="#fff" stroke="#9d977e" stroke-width="3"/>
<path d="M4449,1330 C4457,1380 4459,1440 4447,1510 C4437,1545 4424,1555 4414,1545 C4410,1500 4404,1440 4392,1390 C4382,1350 4392,1320 4414,1310 C4432,1305 4442,1315 4449,1330 Z" fill="#fff" stroke="#9d977e" stroke-width="3"/>
<ellipse cx="4180" cy="1262" rx="14" ry="24" fill="#fff" stroke="#8f8a73" stroke-width="3"/>
<ellipse cx="4346" cy="1262" rx="14" ry="24" fill="#fff" stroke="#8f8a73" stroke-width="3"/>
<path d="M4262,940 L4264,1650" stroke="#a09a82" stroke-width="2" fill="none"/>
<rect x="4157" y="1610" width="217" height="267" fill="#9c8d4a" opacity="0.85"/>
<g fill="#f2eee0"><circle cx="4258" cy="1638" r="5"/><circle cx="4270" cy="1638" r="5"/><circle cx="4265" cy="1672" r="4"/><circle cx="4175" cy="1722" r="4"/><circle cx="4206" cy="1722" r="4"/><circle cx="4286" cy="1722" r="4"/><circle cx="4330" cy="1722" r="4"/><circle cx="4265" cy="1807" r="5"/><circle cx="4237" cy="1833" r="5"/><circle cx="4288" cy="1833" r="5"/></g>

<!-- template magnified -->
<rect x="3320" y="1204" width="592" height="673" fill="none" stroke="#111" stroke-width="7" stroke-dasharray="7 7"/>
<line x1="3912" y1="1204" x2="4368" y2="1608" stroke="#111" stroke-width="7" stroke-dasharray="7 7"/>
<line x1="3912" y1="1877" x2="4150" y2="1877" stroke="#111" stroke-width="7" stroke-dasharray="7 7"/>
<rect x="3447" y="1236" width="434" height="494" fill="url(#tmplG)"/>
<g>
<circle cx="3648" cy="1278" r="16" fill="#7a6a2e" stroke="#c9aa55" stroke-width="4"/>
<circle cx="3678" cy="1278" r="16" fill="#7a6a2e" stroke="#c9aa55" stroke-width="4"/>
<circle cx="3666" cy="1381" r="16" fill="#7a6a2e" stroke="#c9aa55" stroke-width="4"/>
<circle cx="3491" cy="1500" r="16" fill="#7a6a2e" stroke="#c9aa55" stroke-width="4"/>
<circle cx="3576" cy="1500" r="16" fill="#efece2" stroke="#c9aa55" stroke-width="4"/>
<circle cx="3752" cy="1500" r="16" fill="#efece2" stroke="#c9aa55" stroke-width="4"/>
<circle cx="3841" cy="1500" r="16" fill="#7a6a2e" stroke="#c9aa55" stroke-width="4"/>
<circle cx="3666" cy="1631" r="16" fill="#f4f2ea"/>
<circle cx="3606" cy="1687" r="16" fill="#f4f2ea" stroke="#c9aa55" stroke-width="4"/>
<circle cx="3721" cy="1687" r="16" fill="#f4f2ea" stroke="#c9aa55" stroke-width="4"/>
</g>
<g font-size="66" font-weight="bold" fill="#fff" text-anchor="middle">
<text x="3731" y="1300">3</text>
<text x="3622" y="1393" fill="#c8102e">1</text>
<text x="3756" y="1476">4</text>
<text x="3843" y="1476">5</text>
<text x="3622" y="1646" fill="#1f3a9a">2</text>
<text x="3753" y="1666">6</text>
</g>
<g stroke="#222" stroke-width="4"><line x1="3421" y1="1237" x2="3421" y2="1726"/><line x1="3409" y1="1237" x2="3433" y2="1237"/><line x1="3409" y1="1726" x2="3433" y2="1726"/>
<line x1="3447" y1="1758" x2="3879" y2="1758"/><line x1="3447" y1="1746" x2="3447" y2="1770"/><line x1="3879" y1="1746" x2="3879" y2="1770"/></g>
<text transform="translate(3364,1488) rotate(-90)" text-anchor="middle" y="20" font-size="58" fill="#1a1a1a" textLength="179" lengthAdjust="spacingAndGlyphs">12 mm</text>
<text x="3553" y="1828" font-size="58" fill="#1a1a1a" textLength="230" lengthAdjust="spacingAndGlyphs">10.5 mm</text>
</svg>
</body></html>
